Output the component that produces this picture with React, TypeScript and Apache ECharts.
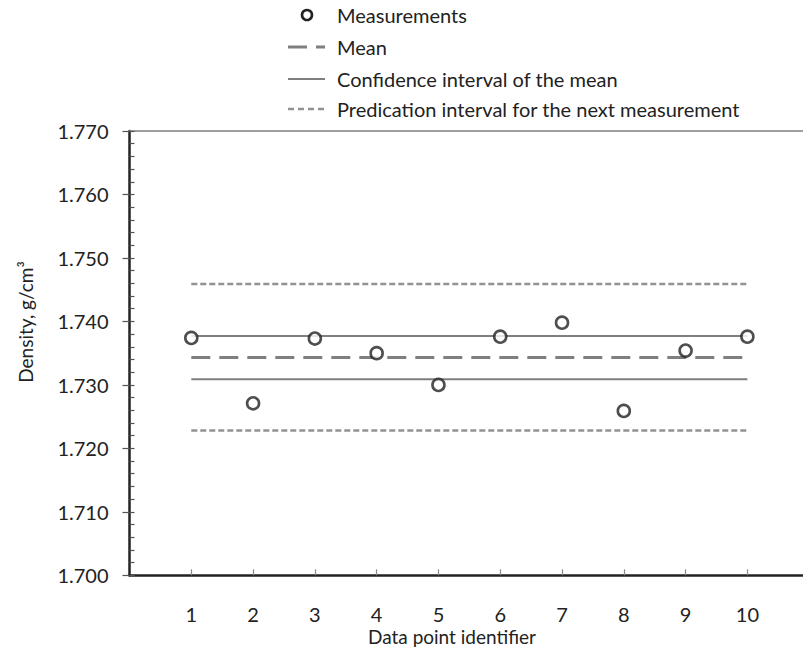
import React, { useEffect, useRef } from "react";
import * as echarts from "echarts";

// Measured densities for each data point
const pointIds = [1, 2, 3, 4, 5, 6, 7, 8, 9, 10];
const densities = [1.7374, 1.7271, 1.7373, 1.735, 1.73, 1.7376, 1.7398, 1.7259, 1.7354, 1.7376];

// Statistics shown as horizontal reference lines
const meanValue = 1.7343;
const confidenceInterval = [1.7309, 1.7377];
const predictionInterval = [1.7228, 1.7459];

// Axis settings
const yTickValues = [1.7, 1.71, 1.72, 1.73, 1.74, 1.75, 1.76, 1.77];
const xTickValues = pointIds;

const legendLabels = [
  "Measurements",
  "Mean",
  "Confidence interval of the mean",
  "Predication interval for the next measurement",
];

const FONT = "Lato, 'Open Sans', sans-serif";
const GREY = "#7f7f7f";
const LIGHT_GREY = "#929292";
const DARK = "#222222";
const X_MAX = 10.9;

const hLine = (v: number) => [
  [pointIds[0], v],
  [pointIds[pointIds.length - 1], v],
];

export default function App() {
  const ref = useRef<HTMLDivElement>(null);

  useEffect(() => {
    if (!ref.current) return;
    const chart = echarts.init(ref.current, null, { renderer: "svg" });

    const legendX = 288;
    const legendRows = [15, 47, 79, 109];
    const textX = 337;

    const option: echarts.EChartsOption = {
      animation: false,
      backgroundColor: "#ffffff",
      textStyle: { fontFamily: FONT },
      grid: { left: 129.5, top: 131, right: 0, bottom: 73.7, containLabel: false },
      xAxis: [
        {
          type: "value",
          min: 0,
          max: X_MAX,
          interval: 1,
          axisLine: { show: true, lineStyle: { color: DARK, width: 2.5 } },
          axisTick: {
            show: true,
            inside: true,
            length: 6,
            lineStyle: { color: "#8a8a8a", width: 1.2 },
            customValues: xTickValues,
          },
          axisLabel: {
            show: true,
            margin: 29,
            fontSize: 20,
            fontFamily: FONT,
            color: DARK,
            customValues: xTickValues,
            formatter: (v: number) => String(v),
          },
          splitLine: { show: false },
        },
        {
          // top border of the plot area
          type: "value",
          position: "top",
          min: 0,
          max: X_MAX,
          axisLine: { show: true, lineStyle: { color: GREY, width: 1.5 } },
          axisTick: { show: false },
          axisLabel: { show: false },
          splitLine: { show: false },
        },
      ],
      yAxis: [
        {
          type: "value",
          min: 1.7,
          max: 1.77,
          interval: 0.01,
          axisLine: { show: true, lineStyle: { color: DARK, width: 2.5 } },
          axisTick: { show: true, length: 7, lineStyle: { color: "#555", width: 1.2 } },
          axisLabel: {
            margin: 21,
            fontSize: 20,
            fontFamily: FONT,
            color: DARK,
            customValues: yTickValues,
            formatter: (v: number) => v.toFixed(3),
          },
          splitLine: { show: false },
        },
        {
          // inner minor ticks
          type: "value",
          position: "left",
          min: 1.7,
          max: 1.77,
          interval: 0.002,
          axisLine: { show: false },
          axisTick: { show: true, inside: true, length: 5, lineStyle: { color: "#555", width: 1.2 } },
          axisLabel: { show: false },
          splitLine: { show: false },
        },
      ],
      series: [
        {
          name: legendLabels[2],
          type: "line",
          data: hLine(confidenceInterval[1]),
          symbol: "none",
          lineStyle: { color: GREY, width: 2 },
        },
        {
          name: legendLabels[2] + " ",
          type: "line",
          data: hLine(confidenceInterval[0]),
          symbol: "none",
          lineStyle: { color: GREY, width: 2 },
        },
        {
          name: legendLabels[1],
          type: "line",
          data: hLine(meanValue),
          symbol: "none",
          lineStyle: { color: GREY, width: 3, type: [19, 9] },
        },
        {
          name: legendLabels[3],
          type: "line",
          data: hLine(predictionInterval[1]),
          symbol: "none",
          lineStyle: { color: LIGHT_GREY, width: 2.5, type: [6, 3] },
        },
        {
          name: legendLabels[3] + " ",
          type: "line",
          data: hLine(predictionInterval[0]),
          symbol: "none",
          lineStyle: { color: LIGHT_GREY, width: 2.5, type: [6, 3] },
        },
        {
          name: legendLabels[0],
          type: "scatter",
          data: pointIds.map((id, i) => [id, densities[i]]),
          symbol: "circle",
          symbolSize: 12,
          z: 5,
          itemStyle: { color: "#ffffff", borderColor: DARK, borderWidth: 2.6 },
        },
      ],
      graphic: [
        // legend
        {
          type: "circle",
          shape: { cx: 307, cy: legendRows[0], r: 5 },
          style: { fill: "#fff", stroke: DARK, lineWidth: 2.6 },
        },
        {
          type: "line",
          shape: { x1: legendX, y1: legendRows[1], x2: legendX + 37, y2: legendRows[1] },
          style: { stroke: GREY, lineWidth: 3, lineDash: [19, 9] },
        },
        {
          type: "line",
          shape: { x1: legendX, y1: legendRows[2], x2: legendX + 37, y2: legendRows[2] },
          style: { stroke: GREY, lineWidth: 2 },
        },
        {
          type: "line",
          shape: { x1: legendX, y1: legendRows[3], x2: legendX + 37, y2: legendRows[3] },
          style: { stroke: LIGHT_GREY, lineWidth: 2.5, lineDash: [6, 4] },
        },
        ...legendLabels.map((label, i) => ({
          type: "text" as const,
          x: textX,
          y: legendRows[i],
          style: {
            text: label,
            fill: DARK,
            font: `20px ${FONT}`,
            verticalAlign: "middle",
          },
        })),
        // axis titles
        {
          type: "text",
          x: 452,
          y: 636,
          style: {
            text: "Data point identifier",
            fill: DARK,
            font: `19px ${FONT}`,
            align: "center",
            verticalAlign: "middle",
          },
        },
        {
          type: "text",
          x: 25,
          y: 322,
          rotation: Math.PI / 2,
          style: {
            text: "Density, g/cm³",
            fill: DARK,
            font: `19px ${FONT}`,
            align: "center",
            verticalAlign: "middle",
          },
        },
      ],
    };

    chart.setOption(option);
    return () => chart.dispose();
  }, []);

  return (
    <div
      ref={ref}
      style={{ position: "fixed", left: 0, top: 0, width: 803, height: 649, background: "#fff" }}
    />
  );
}
